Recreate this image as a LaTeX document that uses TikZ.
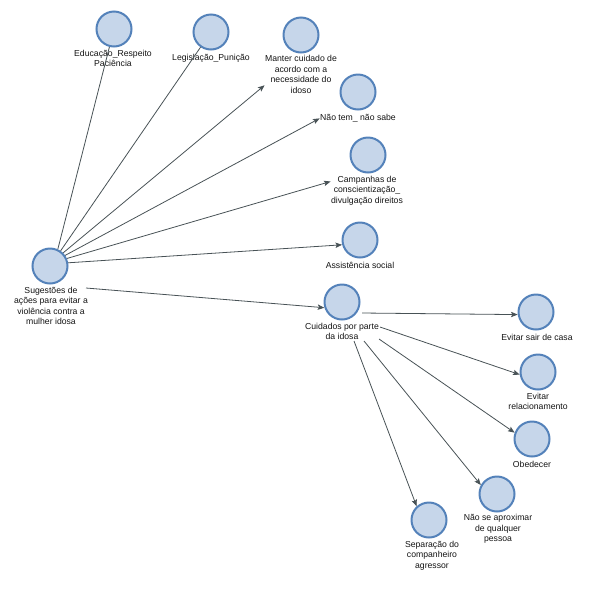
\documentclass[tikz,border=0pt]{standalone}
\usepackage{fontspec}
\setmainfont{Liberation Sans}
\usetikzlibrary{arrows.meta,fit,calc}
\definecolor{cfill}{RGB}{198,214,234}
\definecolor{cdraw}{RGB}{84,130,186}
\definecolor{edgec}{RGB}{72,82,86}
\definecolor{txtc}{RGB}{20,20,20}
\tikzset{
  circ/.style={circle,draw=cdraw,fill=cfill,line width=1.5pt,minimum size=26.25pt,inner sep=0pt},
  lbl/.style={anchor=north,inner sep=0pt,align=center,text=txtc,
    font=\fontsize{6.5pt}{7.9pt}\selectfont,execute at begin node={\rule{0pt}{5.8pt}}},
  grp/.style={inner sep=0pt},
  conn/.style={draw=edgec,line width=0.6pt},
  arr/.style={conn,-{Stealth[length=5pt,width=4pt,inset=1pt]}}
}
\begin{document}
\begin{tikzpicture}[x=0.75pt,y=-0.75pt]
\useasboundingbox (0,0) rectangle (602,597);
% circles
\node[circ] (r) at (50,266) {};
\node[circ] (edu) at (114,29) {};
\node[circ] (leg) at (211,32) {};
\node[circ] (man) at (301,35) {};
\node[circ] (nao) at (358,92) {};
\node[circ] (cam) at (368,155) {};
\node[circ] (ass) at (360,240) {};
\node[circ] (cu) at (342,302) {};
\node[circ] (es) at (536,312) {};
\node[circ] (er) at (538,372) {};
\node[circ] (ob) at (532,439) {};
\node[circ] (na) at (497,494) {};
\node[circ] (sp) at (429,520) {};
% labels
\node[lbl] (rl) at (51,286.5) {Sugestões de\\ações para evitar a\\violência contra a\\mulher idosa};
\node[lbl] (edul) at (113,49.5) {Educação\_Respeito\\Paciência};
\node[lbl] (legl) at (211,52.5) {Legislação\_Punição};
\node[lbl] (manl) at (301,55) {Manter cuidado de\\acordo com a\\necessidade do\\idoso};
\node[lbl] (naol) at (358,112) {Não tem\_ não sabe};
\node[lbl] (caml) at (367,175.5) {Campanhas de\\conscientização\_\\divulgação direitos};
\node[lbl] (assl) at (360,260.5) {Assistência social};
\node[lbl] (cul) at (342,322.5) {Cuidados por parte\\da idosa};
\node[lbl] (esl) at (537,332.5) {Evitar sair de casa};
\node[lbl] (erl) at (538,392.5) {Evitar\\relacionamento};
\node[lbl] (obl) at (532,459.5) {Obedecer};
\node[lbl] (nal) at (498,514) {Não se aproximar\\de qualquer\\pessoa};
\node[lbl] (spl) at (432,540.5) {Separação do\\companheiro\\agressor};
% groups
\node[grp,fit=(man)(manl)] (mang) {};
\node[grp,fit=(nao)(naol)] (naog) {};
\node[grp,fit=(cam)(caml)] (camg) {};
% connectors from root
\draw[conn] (r.65) -- (edu);
\draw[conn] (r.55) -- (leg);
\draw[arr] (r.45) -- (mang);
\draw[arr] (r.35) -- (naog);
\draw[arr] (r.24) -- (camg);
\draw[arr] (r.10) -- (ass.195);
\draw[arr] ($(r)+(36,22)$) -- (cu.198);
% connectors from Cuidados
\draw[arr] ($(cu)+(20,11)$) -- (es.188);
\draw[arr] ($(cu)+(38,25)$) -- (er.188);
\draw[arr] ($(cu)+(37,37)$) -- (ob.160);
\draw[arr] ($(cu)+(22,39)$) -- (na.151);
\draw[arr] ($(cu)+(12,39)$) -- (sp.132);
\end{tikzpicture}
\end{document}
